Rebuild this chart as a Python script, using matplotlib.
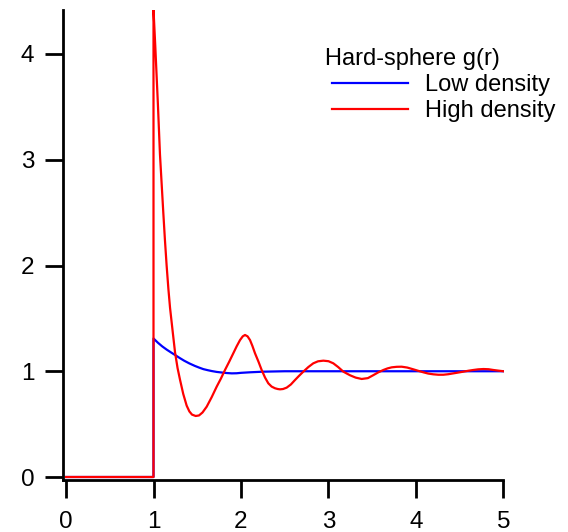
import matplotlib
matplotlib.use("Agg")
import matplotlib.pyplot as plt

plt.rcParams['font.family'] = ['Liberation Sans', 'DejaVu Sans']

# Low density g(r)
r_low = [0.0, 1.0, 1.0, 1.05, 1.10, 1.15, 1.20, 1.246, 1.30, 1.35, 1.41, 1.474,
         1.52, 1.57, 1.62, 1.665, 1.72, 1.78, 1.84, 1.894, 1.95, 2.0, 2.1,
         2.255, 2.5, 3.0, 4.0, 5.0]
g_low = [0.0, 0.0, 1.31, 1.27, 1.235, 1.205, 1.178, 1.154, 1.125, 1.10, 1.074, 1.05,
         1.035, 1.02, 1.01, 1.002, 0.994, 0.988, 0.983, 0.98, 0.981, 0.985, 0.99,
         0.996, 1.0, 1.0, 1.0, 1.0]

# High density g(r)
r_high = [0.0, 1.0, 1.0, 1.02, 1.05, 1.074, 1.094, 1.112, 1.13, 1.15, 1.17, 1.189,
          1.22, 1.246, 1.275, 1.303, 1.34, 1.379, 1.41, 1.44, 1.482, 1.52, 1.56,
          1.608, 1.665, 1.722, 1.77, 1.817, 1.865, 1.912, 1.95, 1.989, 2.02, 2.046,
          2.075, 2.103, 2.13, 2.16, 2.2, 2.236, 2.275, 2.312, 2.35, 2.389, 2.42,
          2.446, 2.48, 2.522, 2.57, 2.617, 2.665, 2.712, 2.77, 2.826, 2.88, 2.941,
          3.0, 3.055, 3.11, 3.17, 3.21, 3.246, 3.31, 3.379, 3.45, 3.51, 3.57, 3.627,
          3.675, 3.722, 3.78, 3.836, 3.9, 3.97, 4.03, 4.084, 4.14, 4.198, 4.255,
          4.312, 4.37, 4.427, 4.485, 4.541, 4.6, 4.655, 4.71, 4.77, 4.83, 4.884,
          4.94, 5.0]
g_high = [0.0, 0.0, 4.42, 4.08, 3.53, 3.05, 2.76, 2.50, 2.25, 2.0, 1.78, 1.60,
          1.37, 1.18, 1.03, 0.92, 0.785, 0.675, 0.62, 0.59, 0.577, 0.582, 0.61,
          0.665, 0.755, 0.854, 0.93, 1.012, 1.09, 1.17, 1.235, 1.295, 1.33, 1.343,
          1.33, 1.295, 1.24, 1.17, 1.09, 1.012, 0.94, 0.886, 0.855, 0.839, 0.832,
          0.829, 0.832, 0.845, 0.875, 0.917, 0.958, 0.996, 1.04, 1.075, 1.094, 1.10,
          1.095, 1.075, 1.04, 0.996, 0.978, 0.962, 0.94, 0.927, 0.935, 0.962, 0.99, 1.012,
          1.027, 1.037, 1.042, 1.043, 1.035, 1.018, 1.003, 0.99, 0.978, 0.971, 0.967,
          0.967, 0.972, 0.98, 0.988, 0.996, 1.005, 1.012, 1.018, 1.021, 1.019, 1.012,
          1.006, 1.0]

x_ticks = [0, 1, 2, 3, 4, 5]
y_ticks = [0, 1, 2, 3, 4]
legend_title = "Hard-sphere g(r)"
labels = ["Low density", "High density"]

W, H = 568, 532
fig = plt.figure(figsize=(W / 100, H / 100), dpi=100)
left_px, right_px, top_px, bot_px = 63.3, 503.5, 10.0, 480.0
ax = fig.add_axes([left_px / W, 1 - bot_px / H, (right_px - left_px) / W, (bot_px - top_px) / H])

ax.plot(r_low, g_low, color='#0000ff', lw=1.6, label=labels[0])
ax.plot(r_high, g_high, color='#ff0000', lw=1.6, label=labels[1])

xppu = (right_px - 66.0) / 5.0
ax.set_xlim(-(66.0 - left_px) / xppu, 5.0)
yppu = (477.0 - 54.0) / 4.0
ax.set_ylim(-(bot_px - 477.0) / yppu, (477.0 - top_px) / yppu)

ax.set_xticks(x_ticks)
ax.set_yticks(y_ticks)
ax.tick_params(direction='out', length=13, width=2, labelsize=17.5)
ax.tick_params(axis='y', pad=8)
ax.tick_params(axis='x', pad=9)
for s in ['top', 'right']:
    ax.spines[s].set_visible(False)
for s in ['left', 'bottom']:
    ax.spines[s].set_linewidth(2)

leg = ax.legend(title=legend_title, loc='upper left',
                bbox_to_anchor=(332 / W, 1 - 48 / H), bbox_transform=fig.transFigure,
                frameon=False, fontsize=17, title_fontsize=17,
                handlelength=3.22, handletextpad=0.72, labelspacing=0.17,
                borderpad=0, borderaxespad=0, alignment='left')
leg.get_title().set_x(-7)

fig.savefig('out.png', dpi=100)
